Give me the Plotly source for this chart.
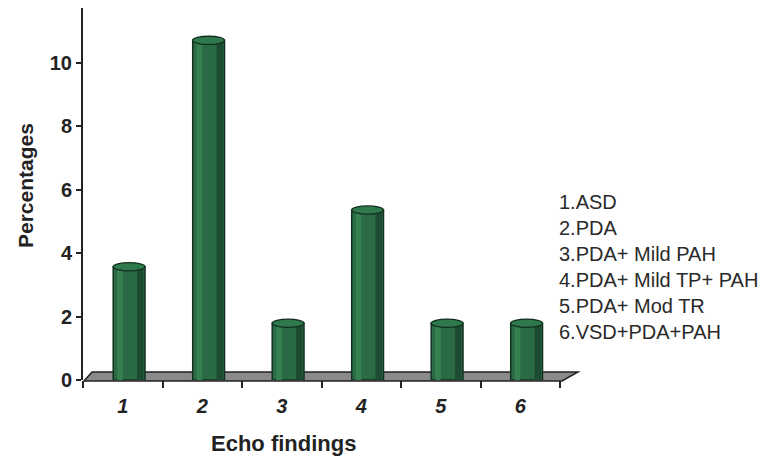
import plotly.graph_objects as go

categories = [1, 2, 3, 4, 5, 6]
tick_labels = ["1", "2", "3", "4", "5", "6"]
percentages = [3.57, 10.71, 1.79, 5.36, 1.79, 1.79]
legend_lines = ["1.ASD", "2.PDA", "3.PDA+ Mild PAH", "4.PDA+ Mild TP+ PAH",
                "5.PDA+ Mod TR", "6.VSD+PDA+PAH"]
y_ticks = [0, 2, 4, 6, 8, 10]

W, H = 769, 457
ML, MR, MT, MB = 83, 209, 8, 77
PW, PH = W - ML - MR, H - MT - MB

FONT = "Liberation Sans, Arial, sans-serif"
BAR_W, BAR_OFF = 0.40, -0.12

fig = go.Figure()
fig.add_trace(go.Bar(x=categories, y=percentages, width=BAR_W, offset=BAR_OFF,
                     marker=dict(color="#2a6b45", line=dict(color="#12301e", width=1.5)),
                     hoverinfo="skip"))
fig.add_trace(go.Bar(x=categories, y=percentages, width=0.07, offset=BAR_OFF + 0.05,
                     marker=dict(color="#34804f", line=dict(width=0)), hoverinfo="skip"))
fig.add_trace(go.Bar(x=categories, y=percentages, width=0.08, offset=BAR_OFF + 0.30,
                     marker=dict(color="#1d4b31", line=dict(width=0)), hoverinfo="skip"))

shapes = []
def px2paper(xp, yp):
    return (xp - ML) / PW, (H - MB - yp) / PH
# floor (decorative parallelogram)
p = [px2paper(84, 381), px2paper(92, 372), px2paper(578, 372), px2paper(562, 381)]
path = "M {} {} L {} {} L {} {} L {} {} Z".format(*[c for pt in p for c in pt])
shapes.append(dict(type="path", xref="paper", yref="paper", path=path,
                   fillcolor="#8a8a8a", line=dict(color="#222", width=1.5), layer="below"))
# cylinder tops
for c, v in zip(categories, percentages):
    shapes.append(dict(type="circle", xref="x", yref="y",
                       x0=c + BAR_OFF, x1=c + BAR_OFF + BAR_W, y0=v - 0.13, y1=v + 0.13,
                       fillcolor="#2f7a4d", line=dict(color="#12301e", width=1.3), layer="above"))

annotations = []
for k, t in enumerate(legend_lines):
    xp, yp = px2paper(557, 202 + 26 * k)
    annotations.append(dict(xref="paper", yref="paper", x=xp, y=yp, text=t, showarrow=False,
                            xanchor="left", yanchor="middle",
                            font=dict(family=FONT, size=20, color="#2a2a2a")))
xp, yp = px2paper(283, 443)
annotations.append(dict(xref="paper", yref="paper", x=xp, y=yp, text="<b>Echo findings</b>",
                        showarrow=False, xanchor="center", yanchor="middle",
                        font=dict(family=FONT, size=22, color="#222")))
xp, yp = px2paper(25, 186)
annotations.append(dict(xref="paper", yref="paper", x=xp, y=yp, text="<b>Percentages</b>",
                        showarrow=False, xanchor="center", yanchor="middle", textangle=-90,
                        font=dict(family=FONT, size=21, color="#222")))

fig.update_layout(
    width=W, height=H, margin=dict(l=ML, r=MR, t=MT, b=MB),
    paper_bgcolor="white", plot_bgcolor="white",
    barmode="overlay", showlegend=False,
    shapes=shapes, annotations=annotations,
    font=dict(family=FONT, color="#222"),
)
fig.update_xaxes(range=[0.5, 6.5], tickvals=categories,
                 ticktext=["<b><i>%s</i></b>" % t for t in tick_labels],
                 ticks="", showline=False, showgrid=False, zeroline=False,
                 tickfont=dict(family=FONT, size=20, color="#222"),
                 ticklabelstandoff=12,
                 minor=dict(tickvals=[0.5, 1.5, 2.5, 3.5, 4.5, 5.5, 6.5], ticks="outside",
                            ticklen=7, tickwidth=1.5, tickcolor="#222"))
fig.update_yaxes(range=[0, 11.73], tickvals=y_ticks, ticks="outside", ticklen=5,
                 tickwidth=1.5, tickcolor="#222", showline=True, linecolor="#222",
                 linewidth=2, showgrid=False, zeroline=False,
                 tickfont=dict(family=FONT, size=20, color="#222", weight="bold"))

fig.write_html("out.html")
